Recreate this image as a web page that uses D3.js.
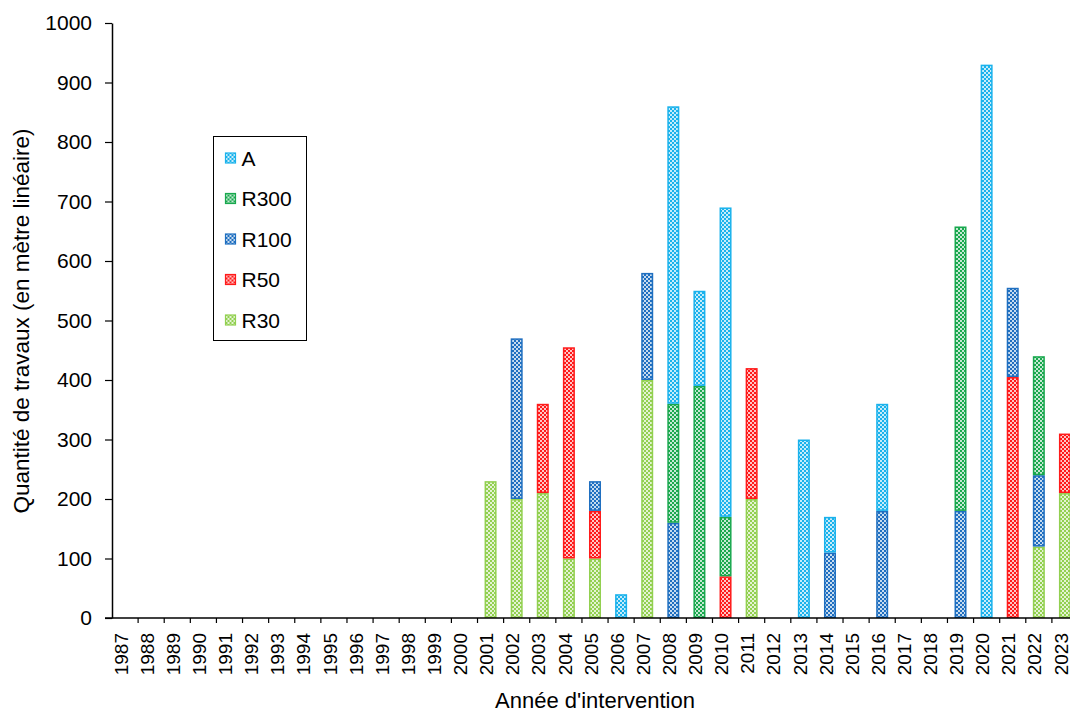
<!DOCTYPE html>
<html lang="fr">
<head>
<meta charset="utf-8">
<title>Quantité de travaux</title>
<script src="https://cdn.jsdelivr.net/npm/d3@7/dist/d3.min.js"></script>
<style>
  body { margin: 0; background: #fff; }
  svg text { font-family: "Liberation Sans", Arial, sans-serif; fill: #000; }
</style>
</head>
<body>
<script>
// data (metres per year, per type)
const years = d3.range(1987, 2024).map(String);
const seriesNames = ["R30", "R50", "R100", "R300", "A"]; // stacking order, bottom first
const legendOrder = ["A", "R300", "R100", "R50", "R30"];
const colors = { A: "#1ab2ec", R300: "#19a84e", R100: "#1f6fc0", R50: "#ff1a1a", R30: "#92d050" };

const R30  = { 2001: 230, 2002: 200, 2003: 210, 2004: 100, 2005: 100, 2007: 400, 2011: 200, 2022: 120, 2023: 210 };
const R50  = { 2003: 150, 2004: 355, 2005: 80, 2010: 70, 2011: 220, 2021: 405, 2023: 100 };
const R100 = { 2002: 270, 2005: 50, 2007: 180, 2008: 160, 2014: 110, 2016: 180, 2019: 180, 2021: 150, 2022: 120 };
const R300 = { 2008: 200, 2009: 390, 2010: 100, 2019: 478, 2022: 200 };
const A    = { 2006: 40, 2008: 500, 2009: 160, 2010: 520, 2013: 300, 2014: 60, 2016: 180, 2020: 930 };
const yTicks = d3.range(0, 1001, 100);

const width = 1070, height = 713;
const mLeft = 112, mBottom = 618, mTop = 23, mRight = 1078;

const table = years.map(y => ({
  year: y, R30: R30[y] || 0, R50: R50[y] || 0, R100: R100[y] || 0, R300: R300[y] || 0, A: A[y] || 0
}));
const stacked = d3.stack().keys(seriesNames)(table);

const x = d3.scaleBand().domain(years).range([mLeft, mRight]).paddingInner(0.54).paddingOuter(0.27);
const y = d3.scaleLinear().domain([0, 1000]).range([mBottom, mTop]);

const svg = d3.select("body").append("svg").attr("width", width).attr("height", height);

// checker patterns
const defs = svg.append("defs");
seriesNames.forEach(k => {
  const p = defs.append("pattern").attr("id", "pat-" + k)
    .attr("patternUnits", "userSpaceOnUse").attr("width", 4).attr("height", 4);
  p.append("rect").attr("width", 4).attr("height", 4).attr("fill", colors[k]);
  p.append("rect").attr("x", 0).attr("y", 0).attr("width", 2).attr("height", 2).attr("fill", "#fff").attr("opacity", 0.75);
  p.append("rect").attr("x", 2).attr("y", 2).attr("width", 2).attr("height", 2).attr("fill", "#fff").attr("opacity", 0.75);
});

// bars
svg.append("g").selectAll("g").data(stacked).join("g")
  .attr("fill", d => "url(#pat-" + d.key + ")")
  .attr("stroke", d => colors[d.key])
  .selectAll("rect").data(d => d.filter(s => s[1] - s[0] > 0)).join("rect")
  .attr("x", d => x(d.data.year) + 0.75)
  .attr("y", d => y(d[1]) + 0.75)
  .attr("width", x.bandwidth() - 1.5)
  .attr("height", d => y(d[0]) - y(d[1]) - 1.5)
  .attr("stroke-width", 1.5);

// y axis
const yAxis = svg.append("g").attr("transform", `translate(${mLeft},0)`)
  .call(d3.axisLeft(y).tickValues(yTicks).tickFormat(d3.format("d")).tickSize(7).tickPadding(13).tickSizeOuter(0));
yAxis.select(".domain").attr("stroke-width", 1.5);
yAxis.selectAll(".tick line").attr("stroke-width", 1.2);
yAxis.selectAll("text").style("font-size", "21px");

// x axis, ticks between categories
const xAxis = svg.append("g").attr("transform", `translate(0,${mBottom})`)
  .call(d3.axisBottom(x).tickSize(0).tickPadding(0));
xAxis.select(".domain").attr("stroke-width", 1.5).attr("d", `M${mLeft - 7},0H${mRight}`);
xAxis.selectAll(".tick").append("line")
  .attr("x1", x.step() / 2).attr("x2", x.step() / 2).attr("y1", 0).attr("y2", 5)
  .attr("stroke", "#000").attr("stroke-width", 1.2);
xAxis.selectAll(".tick text")
  .style("font-size", "19px")
  .attr("transform", "rotate(-90)")
  .attr("text-anchor", "end")
  .attr("x", -15).attr("y", -4).attr("dy", "0.35em");

// axis titles
svg.append("text").attr("x", 595).attr("y", 708).attr("text-anchor", "middle")
  .style("font-size", "22px").text("Année d'intervention");
svg.append("text").attr("transform", "translate(29,321) rotate(-90)").attr("text-anchor", "middle")
  .style("font-size", "22.5px").text("Quantité de travaux (en mètre linéaire)");

// legend
const lg = svg.append("g").attr("transform", "translate(213.5,136.5)");
lg.append("rect").attr("width", 93).attr("height", 204).attr("fill", "#fff").attr("stroke", "#000").attr("stroke-width", 1);
const item = lg.selectAll(".item").data(legendOrder).join("g").attr("class", "item")
  .attr("transform", (d, i) => `translate(0,${21.5 + i * 40.5})`);
item.append("rect").attr("x", 12).attr("y", -5).attr("width", 10).attr("height", 10)
  .attr("fill", d => "url(#pat-" + d + ")").attr("stroke", d => colors[d]).attr("stroke-width", 1.2);
item.append("text").attr("x", 28).attr("y", 0).attr("dy", "0.36em").style("font-size", "21px").text(d => d);
</script>
</body>
</html>
